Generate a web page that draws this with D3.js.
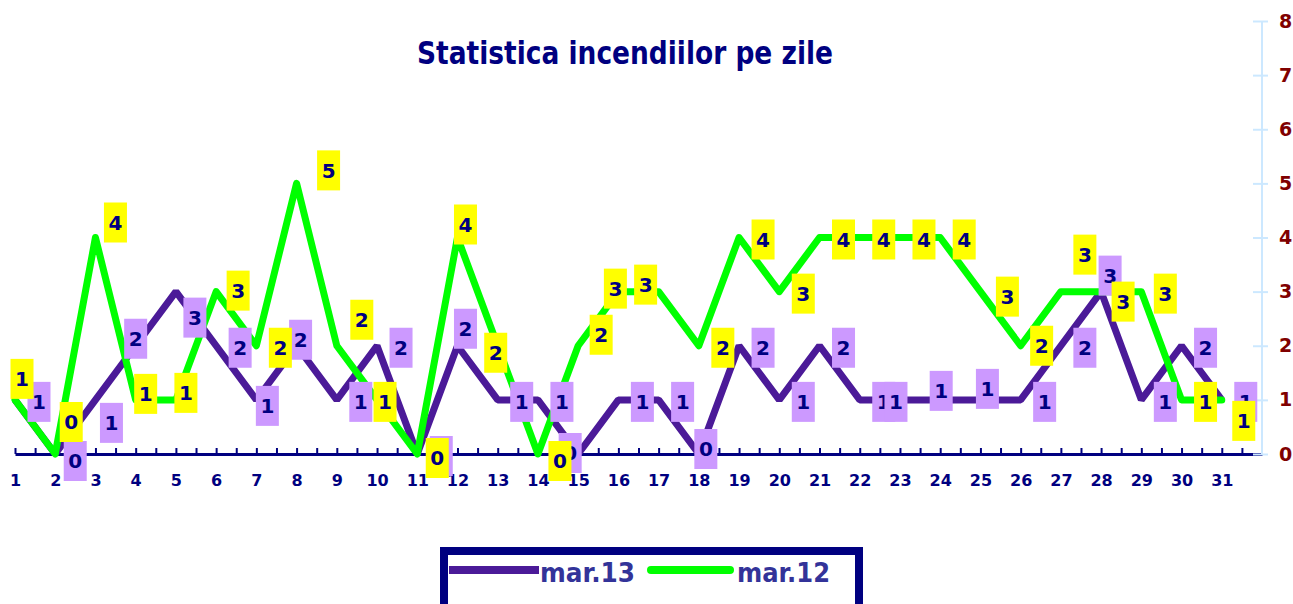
<!DOCTYPE html>
<html>
<head>
<meta charset="utf-8">
<script src="https://cdn.jsdelivr.net/npm/d3@7"></script>
<style>
  body { margin: 0; background: #fff; }
  svg { display: block; font-family: "DejaVu Sans", Verdana, sans-serif; font-weight: bold; }
</style>
</head>
<body>
<div id="chart"></div>
<script>
// days of the month (category labels)
const days = [1,2,3,4,5,6,7,8,9,10,11,12,13,14,15,16,17,18,19,20,21,22,23,24,25,26,27,28,29,30,31];
// fires per day
const mar13 = [1,0,1,2,3,2,1,2,1,2,0,2,1,1,0,1,1,0,2,1,2,1,1,1,1,1,2,3,1,2,1];
const mar12 = [1,0,4,1,1,3,2,5,2,1,0,4,2,0,2,3,3,2,4,3,4,4,4,4,3,2,3,3,3,1,1];
const yTicks = [0,1,2,3,4,5,6,7,8];
const seriesNames = ["mar.13", "mar.12"];

// data labels sit to the right of the point; a few were dragged by hand (px from the point)
const defaultNudge = [24, 2];
const nudge13 = {2:[20,7], 3:[16,23], 4:[0,-7], 5:[19,26], 7:[11,6], 8:[4,-6], 12:[8,-17],
                 15:[-8,-1], 18:[7,-5], 23:[-4,2], 24:[1,-9], 25:[7,-11], 28:[9,-16]};
const nudge12 = {1:[7,-21], 2:[16,-32], 3:[20,-15], 4:[10,-6], 5:[10,-7], 6:[22,-1], 8:[32,-13],
                 9:[25,-26], 10:[8,2], 11:[20,4], 12:[8,-13], 13:[-2,7], 14:[22,7], 15:[23,-11],
                 16:[-3,-3], 17:[-13,-7], 25:[27,5], 26:[21,0], 27:[24,-37], 28:[22,10], 31:[22,21]};

const W = 1293, H = 604;
const navy = "#000080";
const purple = "#4b1a98";
const green = "#00ff00";

const svg = d3.select("#chart").append("svg")
  .attr("width", W)
  .attr("height", H);

const x = d3.scaleLinear().domain([1, 32]).range([15, 1262]);
const y = d3.scaleLinear().domain([0, 8]).range([454, 21]);

// title
svg.append("text")
  .attr("x", 625)
  .attr("y", 64)
  .attr("text-anchor", "middle")
  .attr("fill", navy)
  .style("font-size", "32px")
  .attr("textLength", 416)
  .attr("lengthAdjust", "spacingAndGlyphs")
  .text("Statistica incendiilor pe zile");

// x axis: a tick at every half day, labels on whole days
const xAxis = d3.axisBottom(x)
  .tickValues(d3.range(1, 31.51, 0.5))
  .tickSizeInner(-6)
  .tickSizeOuter(0)
  .tickPadding(21)
  .tickFormat(d => days.includes(d) ? d : "");

const gx = svg.append("g")
  .attr("transform", `translate(0,${y(0)})`)
  .call(xAxis);
gx.select(".domain").attr("stroke", navy).attr("stroke-width", 3);
gx.selectAll(".tick line").attr("stroke", navy).attr("stroke-width", 2);
gx.selectAll(".tick text")
  .attr("fill", navy)
  .style("font-size", "16px")
  .style("font-family", "DejaVu Sans, sans-serif")
  .style("font-weight", "bold");

// y axis on the right, light blue, ticks crossing the line
const yAxis = d3.axisRight(y)
  .tickValues(yTicks)
  .tickSizeInner(15)
  .tickSizeOuter(0)
  .tickPadding(11);

const gy = svg.append("g")
  .attr("transform", "translate(1253,0)")
  .call(yAxis);
gy.select(".domain").remove();
gy.selectAll(".tick line").attr("stroke", "#cce8ff").attr("stroke-width", 2);
gy.selectAll(".tick text")
  .attr("fill", "#800000")
  .style("font-size", "19px")
  .style("font-family", "DejaVu Sans, sans-serif")
  .style("font-weight", "bold");
svg.append("line")
  .attr("x1", 1262).attr("x2", 1262)
  .attr("y1", y(8)).attr("y2", y(0))
  .attr("stroke", "#cce8ff")
  .attr("stroke-width", 2);

// lines
const line = d3.line()
  .x((d, i) => x(days[i]))
  .y(d => y(d));

svg.append("path")
  .datum(mar13)
  .attr("d", line)
  .attr("fill", "none")
  .attr("stroke", purple)
  .attr("stroke-width", 7)
  .attr("stroke-linejoin", "bevel");

svg.append("path")
  .datum(mar12)
  .attr("d", line)
  .attr("fill", "none")
  .attr("stroke", green)
  .attr("stroke-width", 7)
  .attr("stroke-linejoin", "round")
  .attr("stroke-linecap", "round");

// data labels
function drawLabels(values, nudges, bg) {
  const g = svg.append("g")
    .selectAll("g")
    .data(values)
    .join("g")
    .attr("transform", (d, i) => {
      const n = nudges[days[i]] || defaultNudge;
      return `translate(${x(days[i]) + n[0]},${y(d) + n[1]})`;
    });
  g.append("rect")
    .attr("x", -11.5).attr("y", -20)
    .attr("width", 23).attr("height", 40)
    .attr("fill", bg);
  g.append("text")
    .attr("text-anchor", "middle")
    .attr("dy", "0.36em")
    .attr("fill", navy)
    .style("font-size", "20px")
    .text(d => d);
}
drawLabels(mar13, nudge13, "#cc99ff");
drawLabels(mar12, nudge12, "#ffff00");

// legend
const lg = svg.append("g");
lg.append("rect")
  .attr("x", 444).attr("y", 551)
  .attr("width", 415).attr("height", 70)
  .attr("fill", "#fff")
  .attr("stroke", navy)
  .attr("stroke-width", 8);
lg.append("line")
  .attr("x1", 449).attr("x2", 539)
  .attr("y1", 570).attr("y2", 570)
  .attr("stroke", purple).attr("stroke-width", 8);
lg.append("line")
  .attr("x1", 651).attr("x2", 730)
  .attr("y1", 570).attr("y2", 570)
  .attr("stroke", green).attr("stroke-width", 8)
  .attr("stroke-linecap", "round");
lg.selectAll("text.leg")
  .data(seriesNames)
  .join("text")
  .attr("class", "leg")
  .attr("x", (d, i) => i ? 737 : 540)
  .attr("y", 582)
  .attr("fill", "#333399")
  .style("font-size", "26px")
  .attr("textLength", (d, i) => i ? 93 : 95)
  .attr("lengthAdjust", "spacingAndGlyphs")
  .text(d => d);
</script>
</body>
</html>
